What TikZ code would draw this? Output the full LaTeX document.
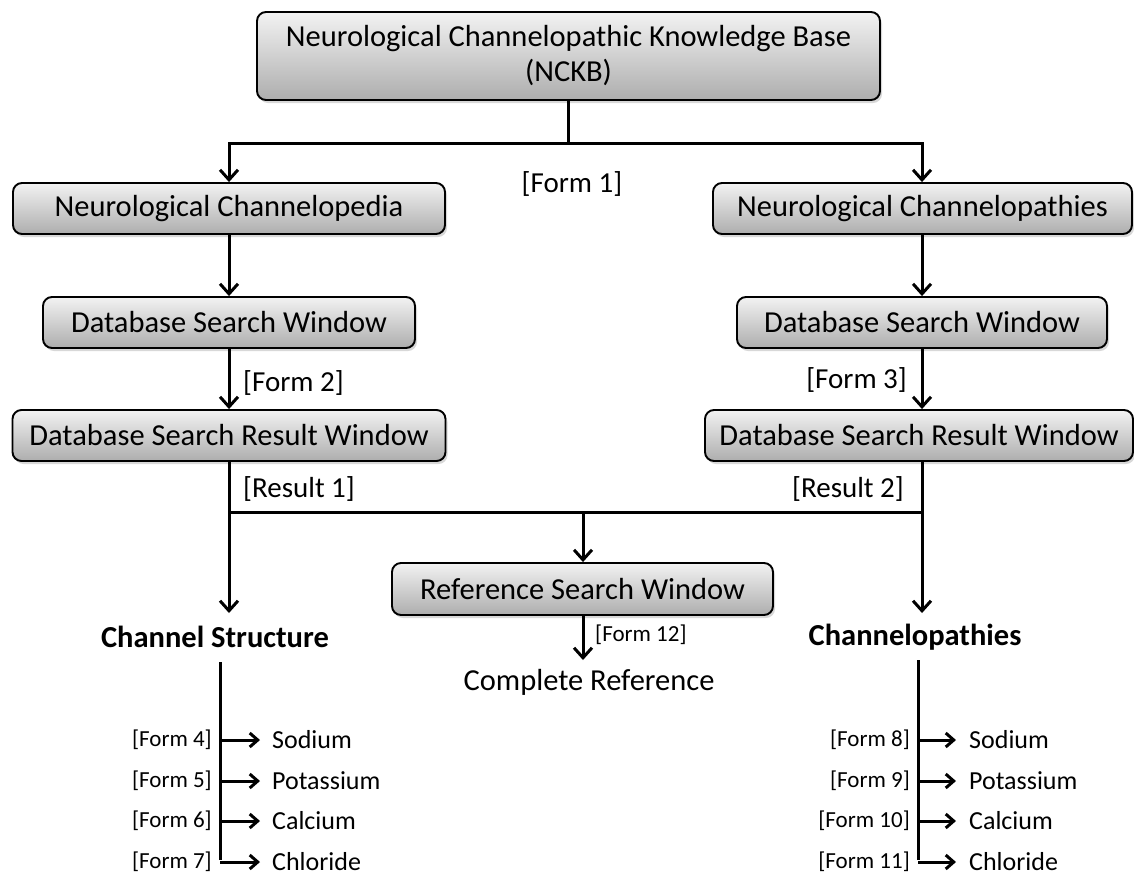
\documentclass[tikz,border=0pt]{standalone}
\usepackage{fontspec}
\setmainfont{Carlito}
\usetikzlibrary{arrows.meta,shadows}
\begin{document}
\begin{tikzpicture}[x=1pt,y=-1pt,
  box/.style={draw=black, line width=1.9pt, rounded corners=9pt,
    top color=white!95!black, bottom color=white!68!black,
    drop shadow={shadow xshift=2pt, shadow yshift=-3pt, opacity=0.3},
    font=\fontsize{30.5}{35}\selectfont, inner sep=0pt, align=center},
  ln/.style={line width=3pt},
  arr/.style={line width=3pt, -{Straight Barb[length=10pt,width=18pt]}},
  sarr/.style={line width=3pt, -{Straight Barb[length=8pt,width=14pt]}},
  lbl/.style={font=\fontsize{29}{34}\selectfont, inner sep=0pt},
  small/.style={font=\fontsize{23}{27}\selectfont, inner sep=0pt},
  item/.style={font=\fontsize{26}{30}\selectfont, inner sep=0pt, anchor=west},
  head/.style={font=\fontsize{30.5}{35}\selectfont\bfseries, inner sep=0pt}]
\useasboundingbox (0,0) rectangle (1134,876);
\fill[white] (0,0) rectangle (1134,876);

% boxes
\node[box, minimum width=623pt, minimum height=88pt] (top) at (568.5,56)
  {Neurological Channelopathic Knowledge Base\\(NCKB)};
\node[box, minimum width=432pt, minimum height=51pt] (ncL) at (229,208.5) {Neurological Channelopedia};
\node[box, minimum width=419pt, minimum height=51pt] (ncR) at (922.5,208.5) {Neurological Channelopathies};
\node[box, minimum width=372pt, minimum height=51pt] (dswL) at (229,322.5) {Database Search Window};
\node[box, minimum width=370pt, minimum height=51pt] (dswR) at (922,322.5) {Database Search Window};
\node[box, minimum width=433pt, minimum height=51pt] (dsrL) at (229,435.5) {Database Search Result Window};
\node[box, minimum width=428pt, minimum height=51pt] (dsrR) at (919,435.5) {Database Search Result Window};
\node[box, minimum width=381pt, minimum height=52pt] (rsw) at (582.5,589) {Reference Search Window};

% labels
\node[lbl] (f1) at (572,184) {[Form 1]};
\node[lbl, anchor=west] (f2) at (243,383) {[Form 2]};
\node[lbl, anchor=east] (f3) at (907,380) {[Form 3]};
\node[lbl, anchor=west] (r1) at (243,489) {[Result 1]};
\node[lbl, anchor=east] (r2) at (904,489) {[Result 2]};
\node[small, anchor=west] (f12) at (595,635) {[Form 12]};
\node[lbl, font=\fontsize{30.5}{35}\selectfont] (cref) at (589,682) {Complete Reference};
\node[head] (cs) at (215,637) {Channel Structure};
\node[head] (cp) at (915,637) {Channelopathies};

% junction coordinates
\coordinate (j0) at (568.5,143);
\coordinate (jL) at (229,143);
\coordinate (jR) at (922,143);
\coordinate (kL) at (229,512);
\coordinate (kR) at (922,512);
\coordinate (kM) at (583,512);
\coordinate (csTip) at (229,613);
\coordinate (cpTip) at (922,613);
\coordinate (crTip) at (583,660);

% top tree
\draw[ln] (top.south) -- (j0);
\draw[ln, line cap=rect] (jL) -- (jR);
\draw[arr] (jL) -- (ncL.north);
\draw[arr] (jR) -- (jR |- ncR.north);
\draw[arr] (ncL.south) -- (dswL.north);
\draw[arr] (ncR.south -| jR) -- (jR |- dswR.north);
\draw[arr] (dswL.south) -- (dsrL.north);
\draw[arr] (dswR.south) -- (dswR.south |- dsrR.north);

% result junction
\draw[ln] (dsrL.south) -- (kL);
\draw[ln, line cap=rect] (kL) -- (kR);
\draw[ln] (kR |- dsrR.south) -- (kR);
\draw[arr] (kL) -- (csTip);
\draw[arr] (kR) -- (cpTip);
\draw[arr] (kM) -- (rsw.north -| kM);
\draw[arr] (rsw.south -| kM) -- (crTip);

% left list
\coordinate (lt) at (220,662);
\coordinate (lb) at (220,860);
\draw[ln] (lt) -- (lb);
\foreach \y/\n/\f/\t in {740/1/4/Sodium, 781/2/5/Potassium, 821/3/6/Calcium, 862/4/7/Chloride}{
  \node[small, anchor=east] (lf\n) at (212,\y) {[Form \f]};
  \node[item] (li\n) at (272,\y) {\t};
  \draw[sarr] (220,\y) -- ([xshift=-12pt]li\n.west);
}
% right list
\coordinate (rt) at (918,660);
\coordinate (rb) at (918,860);
\draw[ln] (rt) -- (rb);
\foreach \y/\n/\f/\t in {740/1/8/Sodium, 781/2/9/Potassium, 821/3/10/Calcium, 862/4/11/Chloride}{
  \node[small, anchor=east] (rf\n) at (910,\y) {[Form \f]};
  \node[item] (ri\n) at (969,\y) {\t};
  \draw[sarr] (918,\y) -- ([xshift=-13pt]ri\n.west);
}
\end{tikzpicture}
\end{document}
